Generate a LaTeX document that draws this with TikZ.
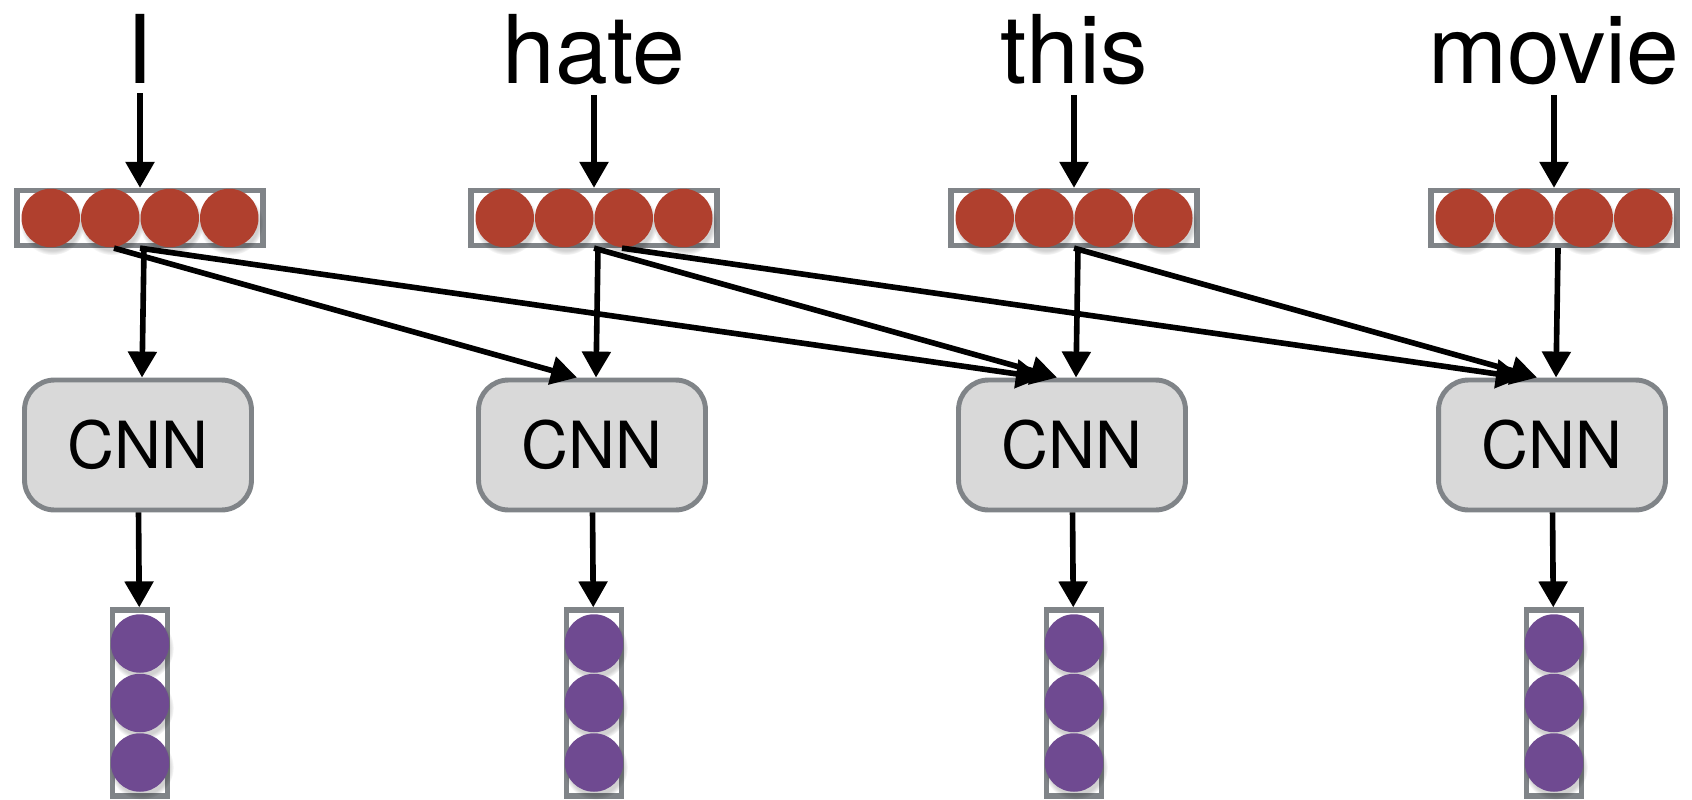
\documentclass[tikz,border=0pt]{standalone}
\usepackage{fontspec}
\setmainfont{TeX Gyre Heros}
\usetikzlibrary{arrows.meta,shadows}

\definecolor{embred}{RGB}{176,64,46}
\definecolor{featpurple}{RGB}{111,74,145}
\definecolor{framegray}{RGB}{128,132,136}
\definecolor{cnngray}{RGB}{217,217,217}

\tikzset{
  word/.style={inner sep=0pt, anchor=base, font=\fontsize{54}{60}\selectfont},
  vecbox/.style={draw=framegray, line width=3pt, fill=white, inner sep=0pt},
  dot/.style={circle, inner sep=0pt, minimum size=1.17cm,
    circular drop shadow={shadow xshift=0.03cm, shadow yshift=-0.09cm, opacity=0.18, fill=black}},
  cnnbox/.style={draw=framegray, fill=cnngray, line width=2.8pt, rounded corners=0.6cm,
    minimum width=4.54cm, minimum height=2.6cm, font=\fontsize{37}{44}\selectfont},
  arr/.style={line width=3.2pt, -{Triangle[width=0.56cm,length=0.52cm]}},
}

\begin{document}
\begin{tikzpicture}[x=0.02cm, y=-0.02cm]
\useasboundingbox (0,0) rectangle (1692,800);

% one column per word: word, embedding, CNN, feature vector
\foreach \x/\w/\i in {140/I/1, 594/hate/2, 1074/this/3, 1554/movie/4} {
  \node[word] (w\i) at (\x,84) {\w};
  \node[vecbox, minimum width=4.92cm, minimum height=1.1cm] (e\i) at (\x,218) {};
  \foreach \k in {-1.5,-0.5,0.5,1.5}
    \node[dot, fill=embred] at (\x+\k*59.5,218) {};
  \node[cnnbox] (c\i) at (\x-2,445) {CNN};
  \node[vecbox, minimum width=1.1cm, minimum height=3.72cm] (h\i) at (\x,703) {};
  \foreach \k in {-1,0,1}
    \node[dot, fill=featpurple] at (\x,703+\k*59.5) {};
  \draw[arr, shorten <=0.18cm] (w\i) -- (e\i);
  \draw[arr] ([xshift=0.08cm]e\i.south) -- ([xshift=0.08cm]c\i.north);
  \draw[arr] (c\i) -- (h\i);
}

% window of three words
\draw[arr] ([xshift=-0.52cm]e1.south) -- ([xshift=-0.3cm]c2.north);
\draw[arr] (e1.south) -- ([xshift=-0.6cm]c3.north);
\draw[arr] (e2.south) -- ([xshift=-0.3cm]c3.north);
\draw[arr] ([xshift=0.56cm]e2.south) -- ([xshift=-0.6cm]c4.north);
\draw[arr] (e3.south) -- ([xshift=-0.3cm]c4.north);
\end{tikzpicture}
\end{document}
